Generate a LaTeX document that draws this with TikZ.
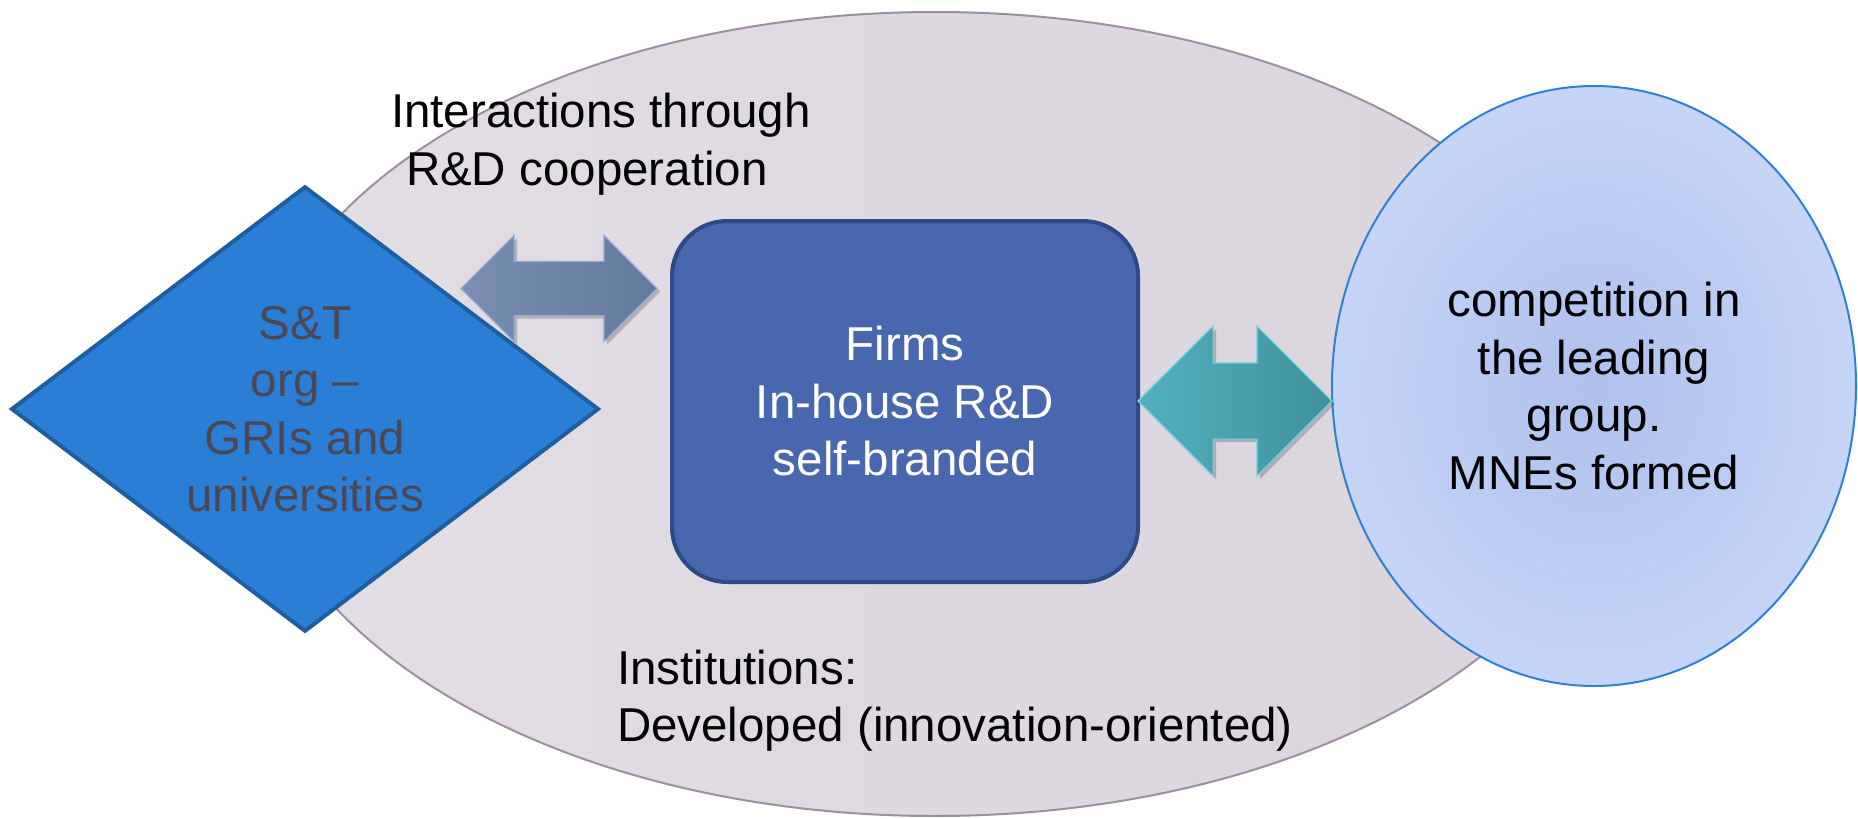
\documentclass[tikz,border=0pt]{standalone}
\usepackage{fontspec}
\setmainfont{Liberation Sans}
\usetikzlibrary{shapes.geometric,shapes.arrows,shadows}

\definecolor{envfill}{HTML}{DAD4DC}
\definecolor{envlight}{HTML}{E2DEE4}
\definecolor{envline}{HTML}{9D8FA0}
\definecolor{stfill}{HTML}{2A7ED5}
\definecolor{stline}{HTML}{1E5E9E}
\definecolor{sttext}{HTML}{4C4752}
\definecolor{firmfill}{HTML}{4967AE}
\definecolor{firmline}{HTML}{2E4A84}
\definecolor{leadinner}{HTML}{AEC1EC}
\definecolor{leadouter}{HTML}{C4D5F7}
\definecolor{leadline}{HTML}{2F80D5}
\definecolor{coopleft}{HTML}{7A8FB2}
\definecolor{coopright}{HTML}{627A9B}
\definecolor{coopedge}{HTML}{97ABCC}
\definecolor{compleft}{HTML}{52B1BE}
\definecolor{compright}{HTML}{3D929C}
\definecolor{compedge}{HTML}{7FD0DA}

\tikzset{
  bigtext/.style={font=\fontsize{47.5}{57.5}\selectfont, inner sep=0pt, outer sep=0pt},
  envshape/.style={ellipse, minimum width=1368, minimum height=804,
    inner sep=0pt, left color=envlight, right color=envfill, draw=envline, line width=2},
  stdiamond/.style={diamond, bigtext, align=center, text=sttext,
    minimum width=586, minimum height=438, fill=stfill, draw=stline, line width=4},
  firmbox/.style={rectangle, rounded corners=55, bigtext, align=center, text=white,
    minimum width=466, minimum height=361, fill=firmfill, draw=firmline, line width=4},
  leadshape/.style={ellipse, bigtext, align=center, text=black,
    minimum width=524, minimum height=600, inner color=leadinner, outer color=leadouter,
    draw=leadline, line width=2},
  % the shaft half-thickness comes from inner ysep, the heads add the extend
  blockarrow/.style={double arrow, double arrow tip angle=90, inner xsep=0pt, outer sep=0pt,
    line width=1.2,
    drop shadow={shadow xshift=3pt, shadow yshift=-3pt, opacity=0.3, fill=black!70}},
  cooparrow/.style={blockarrow, inner ysep=26.5pt, double arrow head extend=26,
    minimum height=196, left color=coopleft, right color=coopright, draw=coopedge},
  comparrow/.style={blockarrow, inner ysep=37.5pt, double arrow head extend=37,
    minimum height=194, left color=compleft, right color=compright, draw=compedge},
}

\begin{document}
\begin{tikzpicture}[x=1pt, y=-1pt]
  \useasboundingbox (0,0) rectangle (1858,819);

  % institutional environment
  \node[envshape] (inst) at (935,414) {};

  % actors
  \node[stdiamond] (st) at (305,409) {S\&T\\org –\\GRIs and\\universities};
  \node[firmbox] (firms) at (905,401.5) {Firms\\In-house R\&D\\self-branded};
  \node[leadshape] (lead) at (1594,386) {competition in\\the leading\\group.\\MNEs formed};

  % links between the actors
  \node[cooparrow] (coop) at (559,288.5) {};
  \node[comparrow] (comp) at (1235,401) {};

  % labels
  \node[bigtext, align=left, anchor=north west] (cooplabel) at (391,93.5)
    {Interactions through\\\hspace*{15pt}R\&D cooperation};
  \node[bigtext, align=left, anchor=north west] (instlabel) at (617,650)
    {Institutions:\\Developed (innovation-oriented)};
\end{tikzpicture}
\end{document}
